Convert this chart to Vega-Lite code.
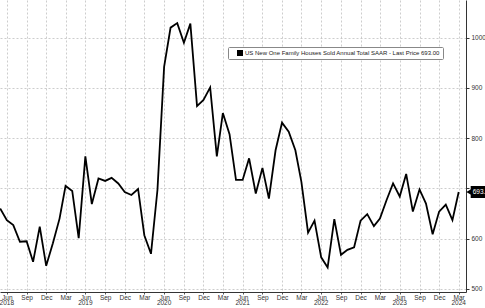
{
  "$schema": "https://vega.github.io/schema/vega-lite/v6.json",
  "width": 466,
  "height": 292,
  "padding": {"left": 0, "top": 0, "right": 19, "bottom": 16},
  "autosize": {"type": "none"},
  "background": "white",
  "config": {"view": {"stroke": null}, "font": "Liberation Sans"},
  "resolve": {"axis": {"x": "independent", "y": "independent"}},
  "layer": [
    {
      "data": {"values": [
        {"date": "2018-05-01", "value": 660},
        {"date": "2018-06-01", "value": 637},
        {"date": "2018-07-01", "value": 627},
        {"date": "2018-08-01", "value": 594},
        {"date": "2018-09-01", "value": 595},
        {"date": "2018-10-01", "value": 554},
        {"date": "2018-11-01", "value": 624},
        {"date": "2018-12-01", "value": 546},
        {"date": "2019-01-01", "value": 591},
        {"date": "2019-02-01", "value": 640},
        {"date": "2019-03-01", "value": 705},
        {"date": "2019-04-01", "value": 695},
        {"date": "2019-05-01", "value": 601},
        {"date": "2019-06-01", "value": 764},
        {"date": "2019-07-01", "value": 669},
        {"date": "2019-08-01", "value": 720},
        {"date": "2019-09-01", "value": 715},
        {"date": "2019-10-01", "value": 721},
        {"date": "2019-11-01", "value": 710},
        {"date": "2019-12-01", "value": 693},
        {"date": "2020-01-01", "value": 687},
        {"date": "2020-02-01", "value": 699},
        {"date": "2020-03-01", "value": 607},
        {"date": "2020-04-01", "value": 570},
        {"date": "2020-05-01", "value": 697},
        {"date": "2020-06-01", "value": 942},
        {"date": "2020-07-01", "value": 1020},
        {"date": "2020-08-01", "value": 1029},
        {"date": "2020-09-01", "value": 990},
        {"date": "2020-10-01", "value": 1028},
        {"date": "2020-11-01", "value": 864},
        {"date": "2020-12-01", "value": 876},
        {"date": "2021-01-01", "value": 901},
        {"date": "2021-02-01", "value": 764},
        {"date": "2021-03-01", "value": 850},
        {"date": "2021-04-01", "value": 808},
        {"date": "2021-05-01", "value": 717},
        {"date": "2021-06-01", "value": 717},
        {"date": "2021-07-01", "value": 760},
        {"date": "2021-08-01", "value": 690},
        {"date": "2021-09-01", "value": 741},
        {"date": "2021-10-01", "value": 680},
        {"date": "2021-11-01", "value": 776},
        {"date": "2021-12-01", "value": 831},
        {"date": "2022-01-01", "value": 813},
        {"date": "2022-02-01", "value": 776},
        {"date": "2022-03-01", "value": 713},
        {"date": "2022-04-01", "value": 612},
        {"date": "2022-05-01", "value": 636},
        {"date": "2022-06-01", "value": 563},
        {"date": "2022-07-01", "value": 543},
        {"date": "2022-08-01", "value": 639},
        {"date": "2022-09-01", "value": 568},
        {"date": "2022-10-01", "value": 578},
        {"date": "2022-11-01", "value": 583},
        {"date": "2022-12-01", "value": 636},
        {"date": "2023-01-01", "value": 649},
        {"date": "2023-02-01", "value": 625},
        {"date": "2023-03-01", "value": 640},
        {"date": "2023-04-01", "value": 677},
        {"date": "2023-05-01", "value": 710},
        {"date": "2023-06-01", "value": 684},
        {"date": "2023-07-01", "value": 729},
        {"date": "2023-08-01", "value": 654},
        {"date": "2023-09-01", "value": 698},
        {"date": "2023-10-01", "value": 670},
        {"date": "2023-11-01", "value": 609},
        {"date": "2023-12-01", "value": 654},
        {"date": "2024-01-01", "value": 668},
        {"date": "2024-02-01", "value": 637},
        {"date": "2024-03-01", "value": 693}
      ]},
      "mark": {"type": "line", "color": "black", "strokeWidth": 1.8},
      "encoding": {
        "x": {
          "field": "date", "type": "temporal",
          "scale": {"type": "utc", "domain": [
            {"year": 2018, "month": 4, "date": 30, "hours": 7, "utc": true},
            {"year": 2024, "month": 4, "date": 4, "utc": true}
          ]},
          "axis": {
            "title": null,
            "orient": "bottom",
            "values": [
              {"year": 2018, "month": 6, "date": 1, "utc": true},
              {"year": 2018, "month": 9, "date": 1, "utc": true},
              {"year": 2018, "month": 12, "date": 1, "utc": true},
              {"year": 2019, "month": 3, "date": 1, "utc": true},
              {"year": 2019, "month": 6, "date": 1, "utc": true},
              {"year": 2019, "month": 9, "date": 1, "utc": true},
              {"year": 2019, "month": 12, "date": 1, "utc": true},
              {"year": 2020, "month": 3, "date": 1, "utc": true},
              {"year": 2020, "month": 6, "date": 1, "utc": true},
              {"year": 2020, "month": 9, "date": 1, "utc": true},
              {"year": 2020, "month": 12, "date": 1, "utc": true},
              {"year": 2021, "month": 3, "date": 1, "utc": true},
              {"year": 2021, "month": 6, "date": 1, "utc": true},
              {"year": 2021, "month": 9, "date": 1, "utc": true},
              {"year": 2021, "month": 12, "date": 1, "utc": true},
              {"year": 2022, "month": 3, "date": 1, "utc": true},
              {"year": 2022, "month": 6, "date": 1, "utc": true},
              {"year": 2022, "month": 9, "date": 1, "utc": true},
              {"year": 2022, "month": 12, "date": 1, "utc": true},
              {"year": 2023, "month": 3, "date": 1, "utc": true},
              {"year": 2023, "month": 6, "date": 1, "utc": true},
              {"year": 2023, "month": 9, "date": 1, "utc": true},
              {"year": 2023, "month": 12, "date": 1, "utc": true},
              {"year": 2024, "month": 3, "date": 1, "utc": true}
            ],
            "labelExpr": "utcFormat(datum.value, '%b')",
            "labelFontSize": 6.5,
            "labelColor": "#333",
            "labelPadding": 0,
            "labelBaseline": "top",
            "labelOverlap": false,
            "labelFlush": false,
            "tickSize": 2,
            "tickColor": "#555",
            "domainColor": "#333",
            "domainWidth": 1,
            "grid": true,
            "gridColor": "#b8b8b8",
            "gridDash": [2, 2],
            "gridWidth": 0.7
          }
        },
        "y": {
          "field": "value", "type": "quantitative",
          "scale": {"domain": [494, 1075], "nice": false, "zero": false},
          "axis": {
            "title": null,
            "orient": "right",
            "values": [500, 600, 700, 800, 900, 1000],
            "labelExpr": "datum.value == 700 ? '' : format(datum.value, 'd')",
            "labelFontSize": 6.5,
            "labelColor": "#333",
            "labelPadding": 2,
            "tickSize": 3,
            "tickColor": "#333",
            "domainColor": "#333",
            "domainWidth": 1,
            "grid": true,
            "gridColor": "#b8b8b8",
            "gridDash": [2, 2],
            "gridWidth": 0.7
          }
        },
        "color": {
          "datum": "US New One Family Houses Sold Annual Total SAAR - Last Price 693.00",
          "scale": {"range": ["black"]},
          "legend": {
            "orient": "none",
            "legendX": 228,
            "legendY": 47,
            "title": null,
            "symbolType": "square",
            "symbolSize": 36,
            "symbolFillColor": "black",
            "symbolStrokeWidth": 0,
            "symbolOffset": 6,
            "labelFont": "Liberation Sans",
            "labelFontSize": 6,
            "labelColor": "#222",
            "labelLimit": 0,
            "labelOffset": 2,
            "padding": 3,
            "strokeColor": "#888",
            "fillColor": "white",
            "cornerRadius": 1
          }
        }
      }
    },
    {
      "data": {"values": [
        {"date": "2018-06-01", "year": "2018"},
        {"date": "2019-06-01", "year": "2019"},
        {"date": "2020-06-01", "year": "2020"},
        {"date": "2021-06-01", "year": "2021"},
        {"date": "2022-06-01", "year": "2022"},
        {"date": "2023-06-01", "year": "2023"},
        {"date": "2024-03-01", "year": "2024"}
      ]},
      "mark": {"type": "text", "color": "#333", "align": "center", "baseline": "top", "fontSize": 6.5, "yOffset": 8, "font": "Liberation Sans"},
      "encoding": {
        "x": {"field": "date", "type": "temporal", "axis": null},
        "y": {"datum": 494, "type": "quantitative", "axis": null},
        "text": {"field": "year"}
      }
    },
    {
      "data": {"values": [{"date": "2024-03-01", "value": 693, "label": "693.00"}]},
      "layer": [
        {
          "mark": {"type": "rect", "color": "black", "xOffset": 12, "x2Offset": 40, "yOffset": -6, "y2Offset": 6},
          "encoding": {
            "x": {"field": "date", "type": "temporal", "axis": null},
            "x2": {"field": "date"},
            "y": {"field": "value", "type": "quantitative", "axis": null},
            "y2": {"field": "value"}
          }
        },
        {
          "mark": {"type": "point", "shape": "triangle-left", "filled": true, "color": "black", "size": 30, "xOffset": 10, "opacity": 1},
          "encoding": {
            "x": {"field": "date", "type": "temporal", "axis": null},
            "y": {"field": "value", "type": "quantitative", "axis": null}
          }
        },
        {
          "mark": {"type": "text", "color": "white", "align": "left", "baseline": "middle", "fontSize": 6.5, "xOffset": 14, "font": "Liberation Sans"},
          "encoding": {
            "x": {"field": "date", "type": "temporal", "axis": null},
            "y": {"field": "value", "type": "quantitative", "axis": null},
            "text": {"field": "label"}
          }
        }
      ]
    }
  ]
}
